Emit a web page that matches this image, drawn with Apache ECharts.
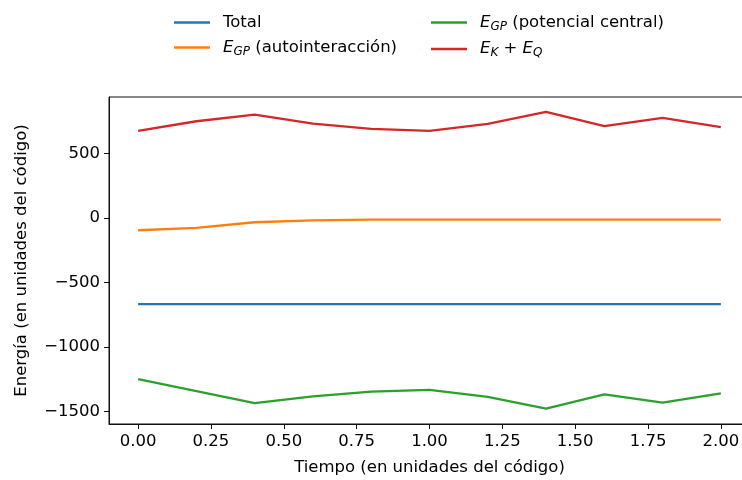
<!DOCTYPE html>
<html><head><meta charset="utf-8">
<script src="https://cdn.jsdelivr.net/npm/echarts@6/dist/echarts.min.js"></script>
<style>html,body{margin:0;padding:0;background:#fff}#c{width:742px;height:480px}</style>
</head><body><div id="c"></div>
<script>
const times = [0, 0.2, 0.4, 0.6, 0.8, 1.0, 1.2, 1.4, 1.6, 1.8, 2.0];
const total = [-667, -667, -667, -667, -667, -667, -667, -667, -667, -667, -667];
const egpSelf = [-95, -77, -33, -18, -13, -12, -12, -12, -12, -12, -12];
const egpCentral = [-1250, -1342, -1436, -1383, -1346, -1332, -1386, -1478, -1368, -1432, -1360];
const ekq = [676, 750, 802, 732, 691, 676, 730, 823, 712, 776, 704];
const xTicks = [0, 0.25, 0.5, 0.75, 1.0, 1.25, 1.5, 1.75, 2.0];
const yTicks = [-1500, -1000, -500, 0, 500];

const names = ['Total', 'EGP (autointeracción)', 'EGP (potencial central)', 'EK + EQ'];
const legendLabels = {
  'Total': 'Total',
  'EGP (autointeracción)': '{i|E}{s|GP}{n| (autointeracción)}',
  'EGP (potencial central)': '{i|E}{s|GP}{n| (potencial central)}',
  'EK + EQ': '{i|E}{s|K}{n| + }{i|E}{s|Q}'
};
const colors = ['#1f77b4', '#ff7f0e', '#2ca02c', '#d62728'];
const seriesData = [total, egpSelf, egpCentral, ekq];
const font = 'DejaVu Sans';
const fs = 16.5;
const rich = {
  i: {fontFamily: font, fontSize: fs, fontStyle: 'italic', color: '#000'},
  s: {fontFamily: font, fontSize: 12, fontStyle: 'italic', color: '#000', padding: [8, 0, 0, 0]},
  n: {fontFamily: font, fontSize: fs, color: '#000'}
};
const legendCommon = {
  orient: 'vertical', itemWidth: 36, itemHeight: 2.5, itemGap: 8,
  icon: 'rect',
  formatter: n => legendLabels[n],
  textStyle: {fontFamily: font, fontSize: fs, color: '#000', padding: [0, 0, 0, 8], rich: rich}
};
const minus = v => String(v).replace('-', '\u2212');

const chart = echarts.init(document.getElementById('c'));
chart.setOption({
  animation: false,
  color: colors,
  legend: [
    Object.assign({}, legendCommon, {left: 169, top: 9, data: [names[0], names[1]]}),
    Object.assign({}, legendCommon, {left: 426, top: 9, data: [names[2], names[3]]})
  ],
  grid: {left: 109, top: 97, width: 641, height: 327, show: true, borderColor: '#111', borderWidth: 1,
    containLabel: false, outerBoundsMode: 'none'},
  xAxis: {
    type: 'value', min: -0.1, max: 2.1,
    name: 'Tiempo (en unidades del código)', nameLocation: 'middle', nameGap: 35,
    nameTextStyle: {fontFamily: font, fontSize: fs, color: '#000'},
    axisLine: {show: true, onZero: false, lineStyle: {color: '#111'}},
    axisTick: {show: true, length: 5, lineStyle: {color: '#111'}, customValues: xTicks},
    axisLabel: {fontFamily: font, fontSize: fs, color: '#000', margin: 9, customValues: xTicks,
      formatter: v => v.toFixed(2)},
    splitLine: {show: false}
  },
  yAxis: {
    type: 'value', min: -1597, max: 938,
    name: 'Energía (en unidades del código)', nameLocation: 'middle', nameGap: 79,
    nameTextStyle: {fontFamily: font, fontSize: fs, color: '#000'},
    axisLine: {show: true, onZero: false, lineStyle: {color: '#111'}},
    axisTick: {show: true, length: 5, lineStyle: {color: '#111'}, customValues: yTicks},
    axisLabel: {fontFamily: font, fontSize: fs, color: '#000', margin: 9, customValues: yTicks,
      formatter: v => minus(v)},
    splitLine: {show: false}
  },
  series: names.map((n, k) => ({
    name: n, type: 'line', showSymbol: false, symbol: 'none',
    lineStyle: {width: 2.3, color: colors[k]},
    data: times.map((t, j) => [t, seriesData[k][j]])
  }))
});
</script></body></html>
